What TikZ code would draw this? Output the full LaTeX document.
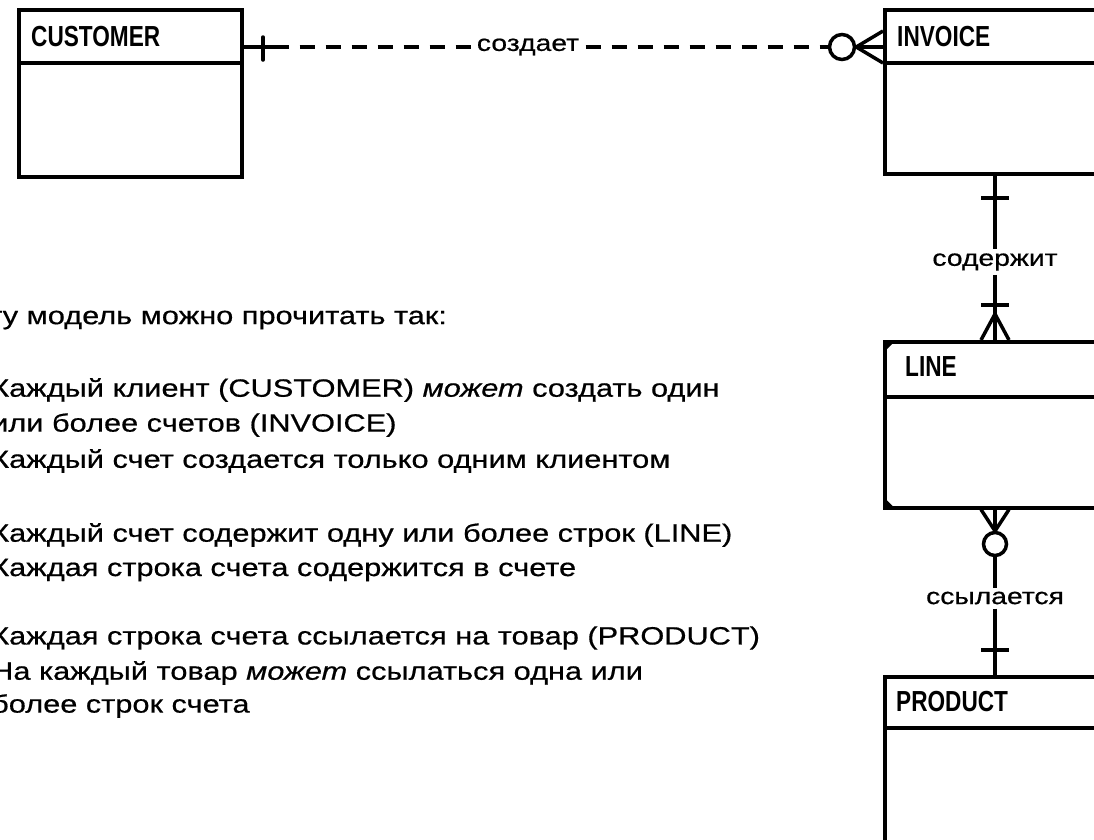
\documentclass[tikz,border=0pt]{standalone}
\usepackage{fontspec}
\setmainfont{Liberation Sans}[FakeStretch=1.23, FakeBold=0.6]
\newfontfamily\entfont{Liberation Sans}[FakeStretch=0.78]
\usetikzlibrary{calc}

\tikzset{
  ln/.style={line width=3.5pt},
  dsh/.style={line width=3.5pt, dash pattern=on 15pt off 11pt},
  ent/.style={draw, line width=3.5pt, rectangle, anchor=north west, inner sep=0pt},
  ttl/.style={anchor=west, inner sep=0pt, font=\entfont\bfseries\fontsize{29}{32}\selectfont},
  rel/.style={inner sep=5pt, fill=white, font=\fontsize{23}{28}\selectfont},
  opt/.style={circle, draw, line width=3.5pt, inner sep=0pt},
  txt/.style={anchor=west, inner sep=0pt, font=\fontsize{25}{30}\selectfont},
}

\begin{document}
\begin{tikzpicture}[x=1pt, y=-1pt]
  \useasboundingbox (0,0) rectangle (1094,839);

  % entities
  \node[ent, minimum width=223pt, minimum height=167pt] (cust) at (17,8) {};
  \node[ent, minimum width=240pt, minimum height=164pt] (inv)  at (883,8) {};
  \node[ent, minimum width=240pt, minimum height=166pt] (lin)  at (883,340) {};
  \node[ent, minimum width=240pt, minimum height=170pt] (prod) at (883,675) {};

  % header separators
  \draw[ln] (cust.west |- 0,63)  -- (cust.east |- 0,63);
  \draw[ln] (inv.west |- 0,63)   -- (inv.east |- 0,63);
  \draw[ln] (lin.west |- 0,397)  -- (lin.east |- 0,397);
  \draw[ln] (prod.west |- 0,728) -- (prod.east |- 0,728);

  % dependent entity corners
  \fill (lin.north west) -- ++(13,0) -- ++(-13,13) -- cycle;
  \fill (lin.south west) -- ++(13,0) -- ++(-13,-13) -- cycle;

  % entity names
  \node[ttl] (custT) at (31,37)  {CUSTOMER};
  \node[ttl] (invT)  at (897,37) {INVOICE};
  \node[ttl] (linT)  at (905,367) {LINE};
  \node[ttl] (prodT) at (896,702) {PRODUCT};

  % CUSTOMER -- INVOICE
  \coordinate (c1) at (cust.east |- 0,47);
  \node[opt, minimum size=25pt] (o1) at (842,47) {};
  \draw[ln] (c1) -- ++(30,0) coordinate (c1d);
  \draw[dsh] (c1d) -- (o1.west);
  \node[rel] (lab1) at (528,47) {создает};
  \draw[ln, line cap=round] (263,37) -- (263,60);
  \coordinate (f1) at (o1.east);
  \draw[ln] (f1) -- (inv.west |- 0,47);
  \draw[ln] (f1) -- (inv.west |- 0,31);
  \draw[ln] (f1) -- (inv.west |- 0,63);

  % INVOICE -- LINE
  \node[rel, fill=none, inner sep=4pt] (lab2) at (995,262) {содержит};
  \draw[ln] (995,0 |- inv.south) -- (lab2.north);
  \draw[ln] (981,198) -- (1009,198);
  \draw[ln] (lab2.south) -- (995,0 |- lin.north);
  \draw[ln] (981,305) -- (1009,305);
  \coordinate (f2) at (995,314);
  \draw[ln] (f2) -- (981,0 |- lin.north);
  \draw[ln] (f2) -- (1009,0 |- lin.north);

  % LINE -- PRODUCT
  \coordinate (f3) at (995,531);
  \draw[ln] (981,0 |- lin.south) -- (f3);
  \draw[ln] (1009,0 |- lin.south) -- (f3);
  \draw[ln] (995,0 |- lin.south) -- (f3);
  \node[opt, minimum size=23pt] (o2) at (995,544) {};
  \node[rel, fill=none, inner sep=4pt] (lab3) at (995,598) {ссылается};
  \draw[ln] (o2.south) -- (lab3.north);
  \draw[ln] (lab3.south) -- (995,0 |- prod.north);
  \draw[ln] (981,650) -- (1009,650);

  % reading of the model
  \node[txt] (t0) at (-34,318) {Эту модель можно прочитать так:};
  \node[txt] (t1) at (-9,390) {Каждый клиент (CUSTOMER) \textit{может} создать один};
  \node[txt] (t2) at (-9,425) {или более счетов (INVOICE)};
  \node[txt] (t3) at (-9,461) {Каждый счет создается только одним клиентом};
  \node[txt] (t4) at (-9,535) {Каждый счет содержит одну или более строк (LINE)};
  \node[txt] (t5) at (-9,570) {Каждая строка счета содержится в счете};
  \node[txt] (t6) at (-9,638) {Каждая строка счета ссылается на товар (PRODUCT)};
  \node[txt] (t7) at (-9,673) {На каждый товар \textit{может} ссылаться одна или};
  \node[txt] (t8) at (-9,706) {более строк счета};
\end{tikzpicture}
\end{document}
